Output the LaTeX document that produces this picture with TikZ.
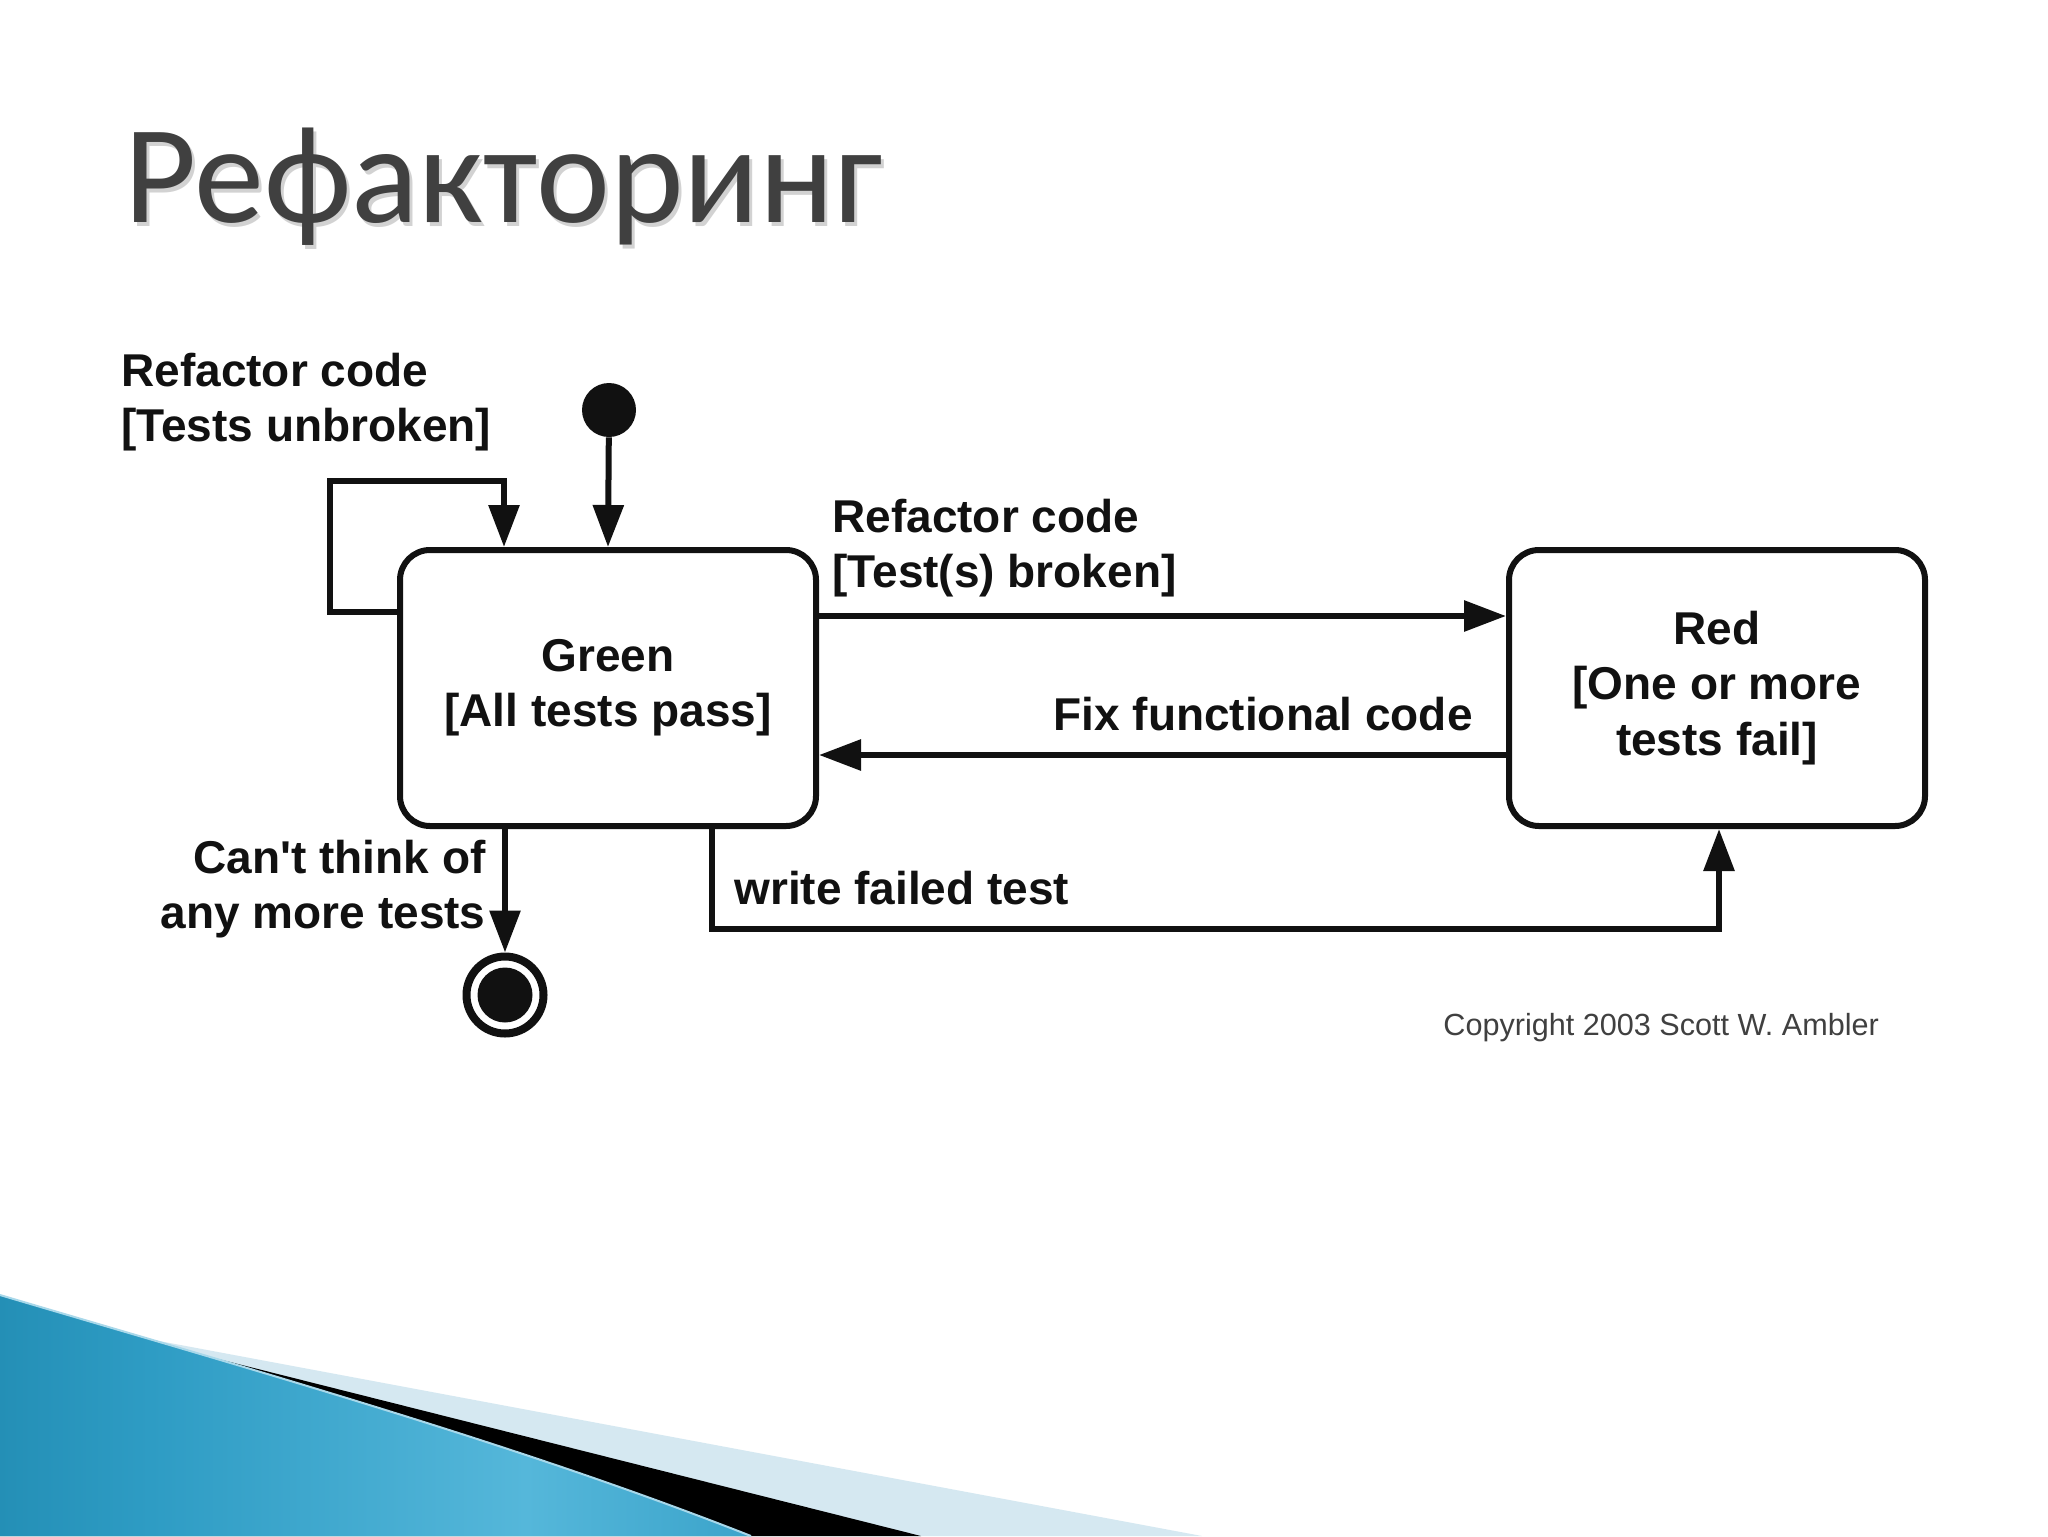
\documentclass[tikz,border=0pt]{standalone}
\usepackage{fontspec}
\setmainfont{Liberation Sans}
\newfontfamily\titlefont{Carlito}
\usetikzlibrary{arrows.meta}
\definecolor{titlegray}{HTML}{404040}
\definecolor{inkc}{HTML}{111111}
\definecolor{paleblue}{HTML}{D5E8F1}
\definecolor{edgeblue}{HTML}{A8D8EA}
\definecolor{sw1}{HTML}{0B6F93}
\definecolor{sw2}{HTML}{2E9CC4}
\definecolor{sw3}{HTML}{55B7DA}
\definecolor{sw4}{HTML}{2A97C0}
\definecolor{sw5}{HTML}{1F8AB4}
\pgfdeclarehorizontalshading{swoosh}{100bp}{color(0bp)=(sw1); color(35bp)=(sw2); color(60bp)=(sw3); color(85bp)=(sw4); color(100bp)=(sw5)}
\begin{document}
\begin{tikzpicture}[x=0.5pt,y=-0.5pt,
  conn/.style={draw=inkc, line width=3pt, -{Triangle[length=21pt,width=15pt]}},
  statebox/.style={draw=inkc, line width=3pt, rounded corners=15pt, minimum width=208pt, minimum height=138pt, align=center, font=\fontsize{23}{27.7}\selectfont\bfseries, inner sep=0pt, text=inkc},
  lbl/.style={font=\fontsize{23}{27.7}\selectfont\bfseries, inner sep=0pt, text=inkc}]
\useasboundingbox (0,0) rectangle (2048,1536);
\fill[white] (0,0) rectangle (2048,1536);

% bottom swoosh
\fill[paleblue] (0,1300) -- (111,1332) -- (1202,1536) -- (0,1536) -- cycle;
\fill[black] (0,1300) -- (111,1332) -- (921,1536) -- (0,1536) -- cycle;
\shade[shading=swoosh] (0,1295) .. controls (260,1372) and (520,1445) .. (751,1536) -- (0,1536) -- cycle;
\draw[edgeblue, line width=1pt] (0,1295) .. controls (260,1372) and (520,1445) .. (751,1536);

% title
\node[anchor=base west, inner sep=0pt, font=\titlefont\fontsize{70}{70}\selectfont, text=gray!35] (titleshadow) at (127,226) {Рефакторинг};
\node[anchor=base west, inner sep=0pt, font=\titlefont\fontsize{70}{70}\selectfont, text=titlegray] (title) at (124,222) {Рефакторинг};

% states
\node[statebox] (green) at (608,688) {Green\\{[All tests pass]}};
\node[statebox] (red) at (1717,688) {Red\\{[One or more}\\tests fail]};
\node[circle, fill=inkc, minimum size=27pt, inner sep=0pt] (init) at (609,410) {};
\node[circle, draw=inkc, line width=4pt, minimum size=38.5pt, inner sep=0pt] (final) at (505,995) {};
\fill[inkc] (final.center) circle[radius=13.75pt];

% helper coordinates
\coordinate (loopA) at (330,612);
\coordinate (loopB) at (330,481);
\coordinate (loopC) at (504,481);
\coordinate (rowTop) at (1000,616);
\coordinate (rowBot) at (1000,755);
\coordinate (wfA) at (712,929);
\coordinate (wfB) at (1719,929);

% connectors
\draw[conn] (init) -- (green.north);
\draw[conn] (green.west |- loopA) -- (loopA) -- (loopB) -- (loopC) -- (loopC |- green.north);
\draw[conn] (green.east |- rowTop) -- (red.west |- rowTop);
\draw[conn] (red.west |- rowBot) -- (green.east |- rowBot);
\draw[conn] (green.south -| final) -- (final);
\draw[conn] (green.south -| wfA) -- (wfA) -- (wfB) -- (red.south -| wfB);

% labels
\node[lbl, anchor=west, align=left] (l1) at (121,402) {Refactor code\\{[Tests unbroken]}};
\node[lbl, anchor=west, align=left] (l2) at (832,548) {Refactor code\\{[Test(s) broken]}};
\node[lbl, anchor=east] (l3) at (1473,714) {Fix functional code};
\node[lbl, anchor=east, align=right] (l4) at (486,889) {Can\textquotesingle t think of\\any more tests};
\node[lbl, anchor=west] (l5) at (734,888) {write failed test};
\node[anchor=west, inner sep=0pt, font=\fontsize{15.3}{18}\selectfont, text=black!75] (copy) at (1443,1028) {Copyright 2003 Scott W. Ambler};
\end{tikzpicture}
\end{document}
